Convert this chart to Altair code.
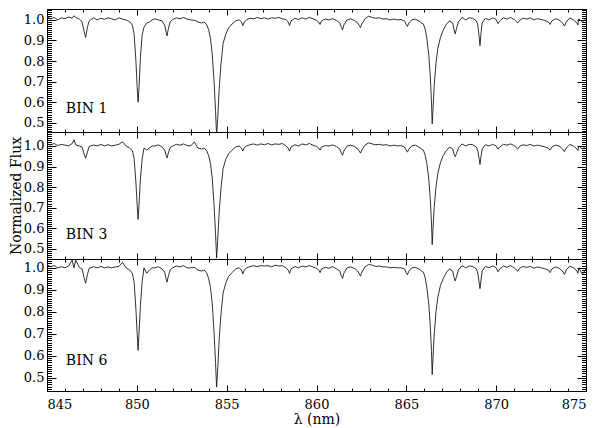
import altair as alt
import pandas as pd

# ---------------- data ----------------
wavelength = [
    845.0, 845.2, 845.4, 845.6, 845.8, 846.0, 846.2, 846.4, 846.5, 846.6, 846.8,
    846.95, 847.05, 847.15, 847.25, 847.35,
    847.6, 847.8, 848.0, 848.2, 848.4, 848.6, 848.8, 849.0, 849.2, 849.4, 849.6,
    849.75, 849.85, 849.95, 850.02, 850.07, 850.12, 850.2, 850.3, 850.4, 850.55, 850.7, 850.85,
    851.0, 851.2, 851.4,
    851.55, 851.63, 851.68, 851.75, 851.85,
    852.0, 852.2, 852.4, 852.6, 852.8, 853.0, 853.2, 853.4, 853.6,
    853.75, 853.9, 854.0, 854.1, 854.2, 854.3, 854.38, 854.44, 854.5, 854.58, 854.68, 854.8, 854.95, 855.1, 855.3, 855.5, 855.7,
    855.82, 855.9, 855.98,
    856.1, 856.3, 856.5, 856.7, 856.9, 857.1, 857.3, 857.5, 857.7, 857.9, 858.1, 858.3,
    858.42, 858.5, 858.58,
    858.8, 859.0, 859.2, 859.4, 859.6, 859.8, 860.0,
    860.12, 860.2, 860.28,
    860.5, 860.7, 860.9, 861.1, 861.3,
    861.38, 861.45, 861.52,
    861.7, 861.9, 862.1, 862.3,
    862.38, 862.45, 862.52,
    862.7, 862.9, 863.1, 863.3, 863.5, 863.7, 863.9, 864.1, 864.3, 864.5, 864.7, 864.9,
    864.98, 865.06, 865.14,
    865.3, 865.5, 865.7, 865.85,
    865.95, 866.05, 866.15, 866.25, 866.33, 866.4, 866.44, 866.48, 866.55, 866.65, 866.75, 866.9, 867.05, 867.2, 867.4,
    867.58, 867.66, 867.72, 867.8, 867.9,
    868.1, 868.3, 868.5, 868.7, 868.9,
    868.98, 869.05, 869.1, 869.15, 869.22,
    869.4, 869.6, 869.8, 870.0,
    870.1, 870.2,
    870.4, 870.6, 870.8, 871.0,
    871.2, 871.3,
    871.5, 871.7, 871.9, 872.1, 872.3, 872.5, 872.7, 872.9,
    873.0, 873.1,
    873.3, 873.5, 873.7, 873.8, 873.9,
    874.1, 874.3, 874.5, 874.55, 874.6, 874.8, 875.0,
]

flux_bin1 = [
    1.015, 1.005, 1.012, 1.0, 1.01, 1.006, 1.014, 1.008, 1.02, 1.012, 1.004,
    0.99, 0.95, 0.915, 0.965, 0.995,
    1.01, 1.0, 1.008, 1.003, 1.01, 1.005, 1.0, 1.01, 1.004, 1.0, 0.992,
    0.975, 0.93, 0.8, 0.67, 0.60, 0.67, 0.82, 0.93, 0.965, 0.985, 0.99, 1.0,
    1.005, 1.0, 0.995,
    0.975, 0.94, 0.922, 0.955, 0.99,
    1.002, 1.01, 1.005, 1.012, 1.004, 1.0, 0.998, 0.99, 0.985,
    0.99, 0.975, 0.95, 0.91, 0.83, 0.70, 0.56, 0.44, 0.52, 0.66, 0.78, 0.885, 0.93, 0.96, 0.98, 0.995, 1.0,
    0.99, 0.972, 0.99,
    1.0, 1.008, 1.005, 1.012, 1.006, 1.01, 1.004, 1.01, 1.008, 1.012, 1.005, 1.002,
    0.99, 0.973, 0.995,
    1.008, 1.002, 1.01, 1.004, 1.012, 1.006, 0.998,
    0.99, 0.978, 0.995,
    1.004, 1.0, 1.006, 0.998, 0.985,
    0.965, 0.952, 0.975,
    1.0, 1.005, 0.998, 0.985,
    0.972, 0.963, 0.98,
    1.005, 1.018, 1.012, 1.008, 1.01, 1.004, 1.006, 1.0, 1.004, 1.0, 1.002, 0.995,
    0.98, 0.968, 0.985,
    1.0, 1.004, 0.995, 0.985,
    0.98, 0.955, 0.905, 0.83, 0.73, 0.60, 0.495, 0.56, 0.68, 0.79, 0.86, 0.915, 0.95, 0.975, 0.995,
    0.985, 0.95, 0.932, 0.96, 0.99,
    1.012, 1.0, 1.01, 1.008, 0.995,
    0.975, 0.92, 0.875, 0.93, 0.985,
    1.008, 1.0, 1.01, 1.002,
    0.982, 0.995,
    1.01, 1.004, 1.012, 1.002,
    0.985, 0.998,
    1.008, 1.004, 1.01, 1.0, 1.006, 1.002, 0.998, 0.99,
    0.978, 0.995,
    1.006, 1.0, 0.985, 0.97, 0.99,
    1.01, 1.0, 0.985, 0.975, 1.005, 0.99, 1.005,
]

flux_bin3 = [
    1.01, 1.005, 1.012, 1.002, 1.008, 1.004, 1.0, 1.012, 1.03, 1.005, 1.0,
    0.995, 0.965, 0.94, 0.97, 0.998,
    1.005, 1.0, 1.008, 1.0, 1.006, 1.0, 1.004, 1.008, 1.02, 1.0, 0.99,
    0.978, 0.94, 0.82, 0.71, 0.643, 0.71, 0.84, 0.94, 0.99, 0.98, 0.99, 1.0,
    1.0, 1.005, 0.995,
    0.98, 0.955, 0.942, 0.965, 0.992,
    1.0, 1.008, 1.004, 1.01, 1.002, 1.0, 1.02, 0.99, 0.985,
    0.99, 0.975, 0.952, 0.915, 0.84, 0.71, 0.575, 0.455, 0.54, 0.675, 0.79, 0.89, 0.935, 0.962, 0.98, 0.995, 1.0,
    0.99, 0.975, 0.992,
    1.0, 1.006, 1.01, 1.004, 1.01, 1.006, 1.012, 1.005, 1.01, 1.008, 1.012, 1.0,
    0.99, 0.975, 0.995,
    1.006, 1.0, 1.01, 1.005, 1.012, 1.004, 0.998,
    0.99, 0.98, 0.995,
    1.002, 1.0, 1.005, 0.998, 0.985,
    0.965, 0.955, 0.975,
    1.0, 1.004, 0.998, 0.985,
    0.975, 0.965, 0.98,
    1.004, 1.015, 1.01, 1.006, 1.008, 1.004, 1.006, 1.0, 1.004, 1.0, 1.002, 0.995,
    0.982, 0.97, 0.985,
    1.0, 1.004, 0.995, 0.985,
    0.98, 0.955, 0.91, 0.84, 0.745, 0.625, 0.52, 0.59, 0.70, 0.80, 0.865, 0.92, 0.952, 0.975, 0.995,
    0.985, 0.96, 0.948, 0.965, 0.99,
    1.01, 1.0, 1.008, 1.006, 0.995,
    0.975, 0.94, 0.91, 0.945, 0.985,
    1.006, 1.0, 1.008, 1.0,
    0.985, 0.995,
    1.008, 1.004, 1.01, 1.002,
    0.985, 0.998,
    1.006, 1.002, 1.008, 1.0, 1.004, 1.0, 0.996, 0.99,
    0.98, 0.995,
    1.004, 1.0, 0.985, 0.972, 0.99,
    1.008, 1.0, 0.985, 0.978, 1.0, 0.985, 1.0,
]

flux_bin6 = [
    1.015, 1.005, 1.01, 1.0, 1.005, 1.0, 1.008, 1.035, 1.0, 1.035, 1.002,
    0.995, 0.96, 0.93, 0.97, 0.998,
    1.005, 1.0, 1.006, 1.0, 1.004, 1.0, 1.004, 1.006, 1.025, 1.0, 0.99,
    0.975, 0.935, 0.81, 0.70, 0.625, 0.70, 0.83, 0.94, 1.0, 0.975, 0.99, 1.0,
    1.0, 1.005, 0.995,
    0.98, 0.95, 0.935, 0.96, 0.99,
    1.0, 1.008, 1.004, 1.01, 1.0, 1.0, 1.002, 0.99, 0.985,
    0.99, 0.975, 0.95, 0.91, 0.835, 0.705, 0.57, 0.458, 0.535, 0.67, 0.785, 0.885, 0.93, 0.96, 0.978, 0.995, 1.0,
    0.99, 0.972, 0.99,
    1.0, 1.005, 1.01, 1.005, 1.01, 1.008, 1.01, 1.004, 1.012, 1.008, 1.01, 1.0,
    0.99, 0.975, 0.995,
    1.006, 1.0, 1.008, 1.004, 1.01, 1.004, 0.998,
    0.99, 0.978, 0.995,
    1.002, 0.998, 1.005, 0.996, 0.985,
    0.965, 0.952, 0.975,
    1.0, 1.004, 0.998, 0.985,
    0.972, 0.962, 0.98,
    1.004, 1.015, 1.012, 1.006, 1.008, 1.004, 1.004, 1.0, 1.002, 1.0, 1.0, 0.995,
    0.98, 0.968, 0.985,
    1.0, 1.002, 0.995, 0.985,
    0.98, 0.955, 0.905, 0.835, 0.74, 0.62, 0.515, 0.585, 0.695, 0.80, 0.865, 0.92, 0.95, 0.975, 0.995,
    0.985, 0.955, 0.94, 0.962, 0.99,
    1.01, 1.0, 1.008, 1.006, 0.995,
    0.975, 0.935, 0.905, 0.94, 0.985,
    1.006, 1.0, 1.008, 1.0,
    0.982, 0.995,
    1.008, 1.002, 1.01, 1.0,
    0.985, 0.998,
    1.006, 1.002, 1.006, 0.998, 1.004, 1.0, 0.996, 0.99,
    0.978, 0.995,
    1.004, 0.998, 0.985, 0.97, 0.99,
    1.008, 1.0, 0.985, 0.975, 1.0, 0.97, 0.995,
]

panel_names = ["BIN 1", "BIN 3", "BIN 6"]
fluxes = [flux_bin1, flux_bin3, flux_bin6]
x_tick_values = list(range(845, 876))
y_tick_values = [round(0.40 + 0.01 * i, 2) for i in range(71)]

assert all(len(f) == len(wavelength) for f in fluxes)

# ---------------- layout / style ----------------
FONT = "DejaVu Serif"
y_domains = [[0.455, 1.053], [0.45, 1.068], [0.44, 1.04]]
heights = [123, 127, 132]
label_y = [0.568, 0.566, 0.576]
MINOR_Y = "abs(datum.value*10 - round(datum.value*10)) > 0.001"
MINOR_X = "datum.value % 5 != 0"


def y_axis(orient, ticks, title=None):
    kw = dict(
        orient=orient, values=ticks, domain=False, grid=False,
        tickSize={"expr": "-9"}, tickColor="black", tickWidth=1,
        tickDash={"condition": {"test": MINOR_Y, "value": [4.5, 40]}, "value": [40, 1]},
        labelFont=FONT, labelColor="black",
    )
    if orient == "left":
        kw.update(labels=True, format=".1f", labelOverlap=False, labelPadding=12,
                  labelFontSize={"condition": {"test": MINOR_Y, "value": 0}, "value": 13},
                  labelExpr=f"({MINOR_Y}) ? '' : datum.label")
    else:
        kw.update(labels=False)
    if title:
        kw.update(title=title, titleFont=FONT, titleFontSize=14, titleFontWeight="normal",
                  titleColor="black", titlePadding=0)
    else:
        kw.update(title=None)
    return alt.Axis(**kw)


def x_axis(orient, labels=False, title=None):
    kw = dict(
        orient=orient, values=x_tick_values, domain=False, grid=False,
        tickSize={"expr": "-6"}, tickColor="black", tickWidth=1,
        tickDash={"condition": {"test": MINOR_X, "value": [3, 40]}, "value": [40, 1]},
        labelFont=FONT, labelColor="black",
    )
    if labels:
        kw.update(labels=True, format="d", labelOverlap=False, labelPadding=13,
                  labelFontSize={"condition": {"test": MINOR_X, "value": 0}, "value": 13},
                  labelExpr=f"({MINOR_X}) ? '' : datum.label")
    else:
        kw.update(labels=False)
    if title:
        kw.update(title=title, titleFont=FONT, titleFontSize=14, titleFontWeight="normal",
                  titleColor="black", titlePadding=1)
    else:
        kw.update(title=None)
    return alt.Axis(**kw)


panels = []
for i in range(3):
    df = pd.DataFrame({"wl": wavelength, "flux": fluxes[i]})
    lo, hi = y_domains[i]
    yt = [v for v in y_tick_values if lo <= v <= hi]
    xs = alt.Scale(domain=[845, 875], nice=False, zero=False)
    ys = alt.Scale(domain=y_domains[i], nice=False, zero=False)
    last = i == 2
    line = alt.Chart(df).mark_line(color="#1a1a1a", strokeWidth=0.9, clip=True).encode(
        x=alt.X("wl:Q", scale=xs,
                axis=x_axis("bottom", labels=last, title="λ (nm)" if last else None)),
        y=alt.Y("flux:Q", scale=ys,
                axis=y_axis("left", yt, title="Normalized Flux" if i == 1 else None)),
    )
    label = alt.Chart(pd.DataFrame({"t": [panel_names[i]]})).mark_text(
        align="left", baseline="middle", font=FONT, fontSize=14, color="black"
    ).encode(
        x=alt.XDatum(846.05, scale=xs, axis=x_axis("top")),
        y=alt.YDatum(label_y[i], scale=ys, axis=y_axis("right", yt)),
        text="t:N",
    )
    panels.append(
        alt.layer(line, label)
        .resolve_axis(x="independent", y="independent")
        .properties(width=539, height=heights[i])
    )

chart = (
    alt.vconcat(*panels, spacing=0, bounds="flush")
    .configure_view(stroke="black", strokeWidth=1)
    .properties(padding=0, background="white")
)

chart.save("out.html", embed_options={"renderer": "svg", "actions": False})
